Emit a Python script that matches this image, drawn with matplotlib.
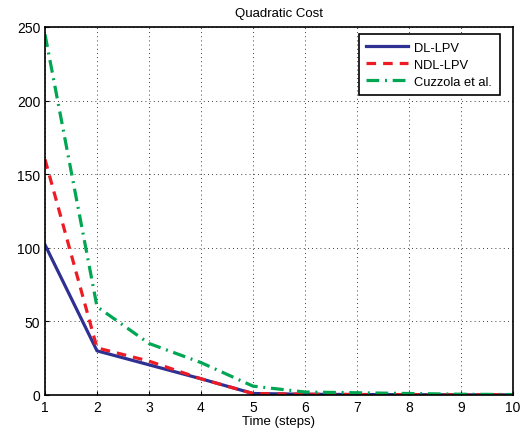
import numpy as np
import matplotlib
matplotlib.use("Agg")
import matplotlib.pyplot as plt

steps = [1, 2, 3, 4, 5, 6, 7, 8, 9, 10]
dl_lpv = [102, 30, 20.5, 11, 1, 0.5, 0.3, 0.2, 0.1, 0.1]
ndl_lpv = [160, 32, 23, 11, 1, 0.5, 0.3, 0.2, 0.1, 0.1]
cuzzola = [245, 60, 35, 22, 6, 2, 1.5, 1, 0.5, 0.3]

plt.rcParams['font.family'] = ['Liberation Sans', 'DejaVu Sans']

fig = plt.figure(figsize=(5.27, 4.35), dpi=100)
ax = fig.add_axes([0.0854, 0.0897, 0.888, 0.846])

ax.plot(steps, dl_lpv, color='#2e3192', lw=2.3, ls='-', label='DL-LPV')
ax.plot(steps, ndl_lpv, color='#ed1c24', lw=2.3, ls=(0, (3, 2.2)), label='NDL-LPV')
ax.plot(steps, cuzzola, color='#00a651', lw=2.3, ls=(0, (4, 1.8, 0.6, 1.8)), label='Cuzzola et al.')

ax.set_xlim(1, 10)
ax.set_ylim(0, 250)
ax.set_xticks(range(1, 11))
ax.set_yticks(range(0, 251, 50))
ax.grid(True, color='black', ls=(0, (1, 4)), lw=0.6)
ax.tick_params(direction='in', labelsize=10, length=3)
for s in ax.spines.values():
    s.set_linewidth(1.2)

ax.set_title('Quadratic Cost', fontsize=9.5, pad=8)
ax.set_xlabel('Time (steps)', fontsize=9.5, labelpad=1)

leg = ax.legend(loc='upper right', bbox_to_anchor=(0.972, 0.981), fontsize=9.3,
                frameon=True, fancybox=False, edgecolor='black', framealpha=1,
                handlelength=3.2, borderaxespad=0, borderpad=0.6,
                labelspacing=0.38, handletextpad=0.5)
leg.get_frame().set_linewidth(1.2)

fig.savefig('out.png', dpi=100)
